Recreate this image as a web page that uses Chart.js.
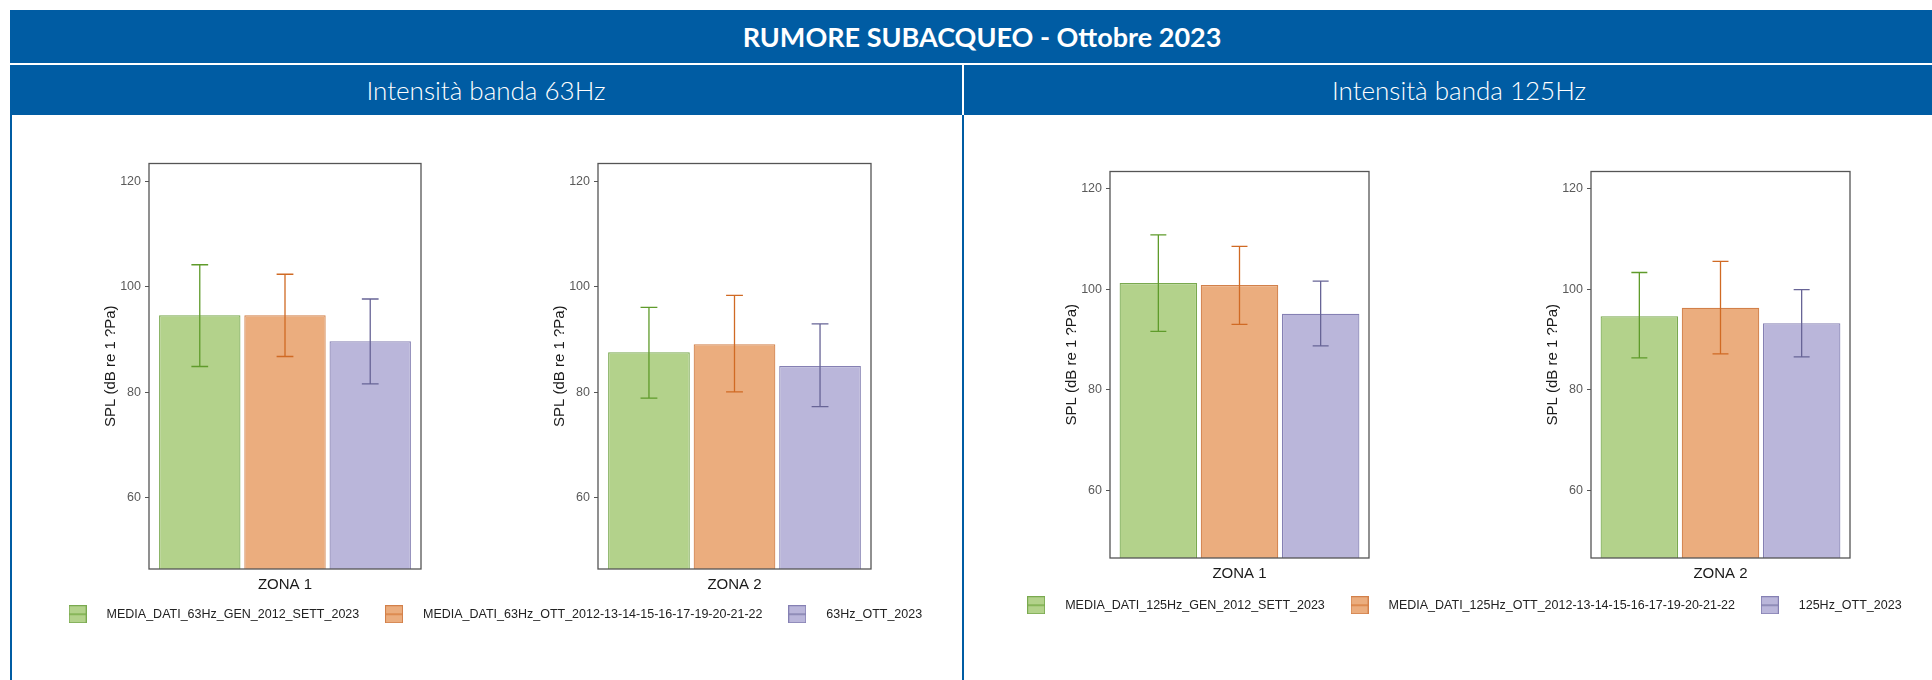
<!DOCTYPE html>
<html lang="it">
<head>
<meta charset="utf-8">
<title>Rumore subacqueo - Ottobre 2023</title>
<script src="https://cdn.jsdelivr.net/npm/chart.js@4.4.0/dist/chart.umd.min.js"></script>
<style>
  html, body { margin: 0; padding: 0; background: #fff; }
  body { width: 1932px; height: 680px; position: relative; overflow: hidden; font-family: 'Lato', 'Open Sans', sans-serif; }
  .band { position: absolute; background: #005ca3; color: #fff; display: flex; align-items: center; justify-content: center; white-space: nowrap; box-sizing: border-box; }
  #titolo { left: 10px; top: 10px; width: 1922px; height: 53px; font-weight: 700; font-size: 27px; padding-left: 22px; }
  .sub { top: 65px; height: 50px; font-weight: 300; font-size: 26px; }
  #sub63 { left: 10px; width: 952px; }
  #sub125 { left: 964px; width: 968px; padding-left: 22px; }
  .vline { position: absolute; top: 115px; width: 2px; height: 565px; background: #005ca3; }
  canvas { position: absolute; }
</style>
</head>
<body>
<div class="band" id="titolo">RUMORE SUBACQUEO - Ottobre 2023</div>
<div class="band sub" id="sub63">Intensità banda 63Hz</div>
<div class="band sub" id="sub125">Intensità banda 125Hz</div>
<div class="vline" style="left:10px"></div>
<div class="vline" style="left:962px"></div>

<script>
// SERIE (legenda)
const serie63 = ['MEDIA_DATI_63Hz_GEN_2012_SETT_2023', 'MEDIA_DATI_63Hz_OTT_2012-13-14-15-16-17-19-20-21-22', '63Hz_OTT_2023'];
const serie125 = ['MEDIA_DATI_125Hz_GEN_2012_SETT_2023', 'MEDIA_DATI_125Hz_OTT_2012-13-14-15-16-17-19-20-21-22', '125Hz_OTT_2023'];
const zona1 = ['ZONA 1'];
const zona2 = ['ZONA 2'];
const yTicks = [60, 80, 100, 120];

// 63Hz - valori medi e barre di errore
const media63Zona1 = [94.6, 94.6, 89.7];
const min63Zona1 = [84.9, 86.8, 81.6];
const max63Zona1 = [104.2, 102.4, 97.7];
const media63Zona2 = [87.6, 89.1, 85.0];
const min63Zona2 = [78.9, 80.1, 77.3];
const max63Zona2 = [96.1, 98.4, 93.0];

// 125Hz - valori medi e barre di errore
const media125Zona1 = [101.2, 100.8, 95.1];
const min125Zona1 = [91.6, 93.0, 88.7];
const max125Zona1 = [110.8, 108.5, 101.6];
const media125Zona2 = [94.6, 96.3, 93.2];
const min125Zona2 = [86.3, 87.1, 86.5];
const max125Zona2 = [103.3, 105.5, 99.9];

const Y_MIN = 46.5;
const Y_MAX = 123.4;

const fillColors = ['#b3d28b', '#ebad7e', '#bab6da'];
const borderColors = ['#79a94f', '#d2804a', '#8580b3'];
const errColors = ['#5f9b2b', '#d06a24', '#676496'];
const FONT = "'Liberation Sans', Arial, sans-serif";

const AXIS_W = 50, X_AXIS_H = 30, PAD_T = 10, PAD_R = 10;

// barre di errore disegnate sulle barre
const errorBarsPlugin = {
    id: 'errorBars',
    afterDatasetsDraw(chart) {
        const ctx = chart.ctx;
        const yScale = chart.scales.y;
        chart.data.datasets.forEach((ds, i) => {
            const meta = chart.getDatasetMeta(i);
            if (!ds.errLow || meta.hidden) return;
            meta.data.forEach((bar, j) => {
                const yLo = yScale.getPixelForValue(ds.errLow[j]);
                const yHi = yScale.getPixelForValue(ds.errHigh[j]);
                const half = bar.width * 0.103;
                ctx.save();
                ctx.strokeStyle = ds.errColor;
                ctx.lineWidth = 1.3;
                ctx.beginPath();
                ctx.moveTo(bar.x, yLo); ctx.lineTo(bar.x, yHi);
                ctx.moveTo(bar.x - half, yLo); ctx.lineTo(bar.x + half, yLo);
                ctx.moveTo(bar.x - half, yHi); ctx.lineTo(bar.x + half, yHi);
                ctx.stroke();
                ctx.restore();
            });
        });
    }
};

// cornice del pannello
const panelBoxPlugin = {
    id: 'panelBox',
    afterDatasetsDraw(chart) {
        const { ctx, chartArea: a } = chart;
        ctx.save();
        ctx.strokeStyle = '#555';
        ctx.lineWidth = 1.3;
        ctx.strokeRect(a.left, a.top, a.right - a.left, a.bottom - a.top);
        ctx.restore();
    }
};

// la legenda ritaglia le icone alte 18px: allarga il riquadro
const legendRoomPlugin = {
    id: 'legendRoom',
    afterLayout(chart) {
        if (chart.legend) {
            chart.legend.bottom += 12;
            chart.legend.height += 12;
        }
    }
};

function addCanvas(id, left, top, width, height) {
    const c = document.createElement('canvas');
    c.id = id;
    c.width = width;
    c.height = height;
    c.style.left = left + 'px';
    c.style.top = top + 'px';
    c.style.width = width + 'px';
    c.style.height = height + 'px';
    document.body.appendChild(c);
    return c;
}

function makeLegendIcon(fill, border, line) {
    const c = document.createElement('canvas');
    c.width = 18;
    c.height = 18;
    const g = c.getContext('2d');
    g.fillStyle = fill;
    g.fillRect(0.5, 0.5, 17, 17);
    g.strokeStyle = border;
    g.lineWidth = 1;
    g.strokeRect(0.5, 0.5, 17, 17);
    g.strokeStyle = line;
    g.beginPath();
    g.moveTo(1, 9);
    g.lineTo(17, 9);
    g.stroke();
    return c;
}
const legendIcons = fillColors.map((f, i) => makeLegendIcon(f, borderColors[i], errColors[i]));

function createZonaChart(id, area, zona, series, media, lo, hi) {
    const canvas = addCanvas(id, area.left - AXIS_W, area.top - PAD_T,
        area.right - area.left + AXIS_W + PAD_R, area.bottom - area.top + PAD_T + X_AXIS_H);

    return new Chart(canvas.getContext('2d'), {
        type: 'bar',
        data: {
            labels: zona,
            datasets: series.map((label, i) => ({
                label: label,
                data: [media[i]],
                errLow: [lo[i]],
                errHigh: [hi[i]],
                errColor: errColors[i],
                backgroundColor: fillColors[i],
                borderColor: borderColors[i],
                borderWidth: 1.2,
                borderSkipped: false,
                categoryPercentage: 0.94,
                barPercentage: 0.955
            }))
        },
        options: {
            responsive: false,
            animation: false,
            events: [],
            layout: { padding: { top: PAD_T, right: PAD_R, left: 0, bottom: 0 } },
            plugins: {
                legend: { display: false },
                tooltip: { enabled: false }
            },
            scales: {
                x: {
                    grid: { display: false },
                    border: { display: false },
                    ticks: { color: '#1a1a1a', font: { family: FONT, size: 15, lineHeight: 1 }, padding: 0 },
                    afterFit: s => { s.height = X_AXIS_H; }
                },
                y: {
                    min: Y_MIN,
                    max: Y_MAX,
                    afterBuildTicks: s => { s.ticks = yTicks.map(v => ({ value: v })); },
                    grid: { drawOnChartArea: false, drawTicks: true, tickLength: 4, color: '#555' },
                    border: { display: false },
                    ticks: { color: '#5a5a5a', font: { family: FONT, size: 12.5 }, padding: 4 },
                    title: {
                        display: true,
                        text: 'SPL (dB re 1 ?Pa)',
                        color: '#1a1a1a',
                        font: { family: FONT, size: 15 },
                        padding: { top: 3, bottom: 0 }
                    },
                    afterFit: s => { s.width = AXIS_W; }
                }
            }
        },
        plugins: [errorBarsPlugin, panelBoxPlugin]
    });
}

function createLegendChart(id, left, top, width, series) {
    const canvas = addCanvas(id, left, top, width, 44);
    return new Chart(canvas.getContext('2d'), {
        type: 'bar',
        data: {
            labels: [],
            datasets: series.map((label, i) => ({ label: label, data: [], backgroundColor: fillColors[i] }))
        },
        options: {
            responsive: false,
            animation: false,
            events: [],
            layout: { padding: 0 },
            scales: { x: { display: false }, y: { display: false } },
            plugins: {
                tooltip: { enabled: false },
                legend: {
                    position: 'top',
                    align: 'center',
                    labels: {
                        usePointStyle: true,
                        pointStyleWidth: 45.5,
                        padding: 12,
                        color: '#222',
                        font: { family: FONT, size: 12.5 },
                        generateLabels: chart => chart.data.datasets.map((ds, i) => ({
                            text: ds.label,
                            pointStyle: legendIcons[i],
                            fillStyle: fillColors[i],
                            strokeStyle: borderColors[i],
                            lineWidth: 0,
                            hidden: false,
                            datasetIndex: i,
                            fontColor: '#222'
                        }))
                    }
                }
            }
        },
        plugins: [legendRoomPlugin]
    });
}

// PANNELLO 63Hz
createZonaChart('c63z1', { left: 149, right: 421, top: 162, bottom: 569 }, zona1, serie63, media63Zona1, min63Zona1, max63Zona1);
createZonaChart('c63z2', { left: 598, right: 871, top: 162, bottom: 569 }, zona2, serie63, media63Zona2, min63Zona2, max63Zona2);
createLegendChart('leg63', 12, 596, 953, serie63);

// PANNELLO 125Hz
createZonaChart('c125z1', { left: 1110, right: 1369, top: 170, bottom: 558 }, zona1, serie125, media125Zona1, min125Zona1, max125Zona1);
createZonaChart('c125z2', { left: 1591, right: 1850, top: 170, bottom: 558 }, zona2, serie125, media125Zona2, min125Zona2, max125Zona2);
createLegendChart('leg125', 983, 587, 949, serie125);
</script>
</body>
</html>
